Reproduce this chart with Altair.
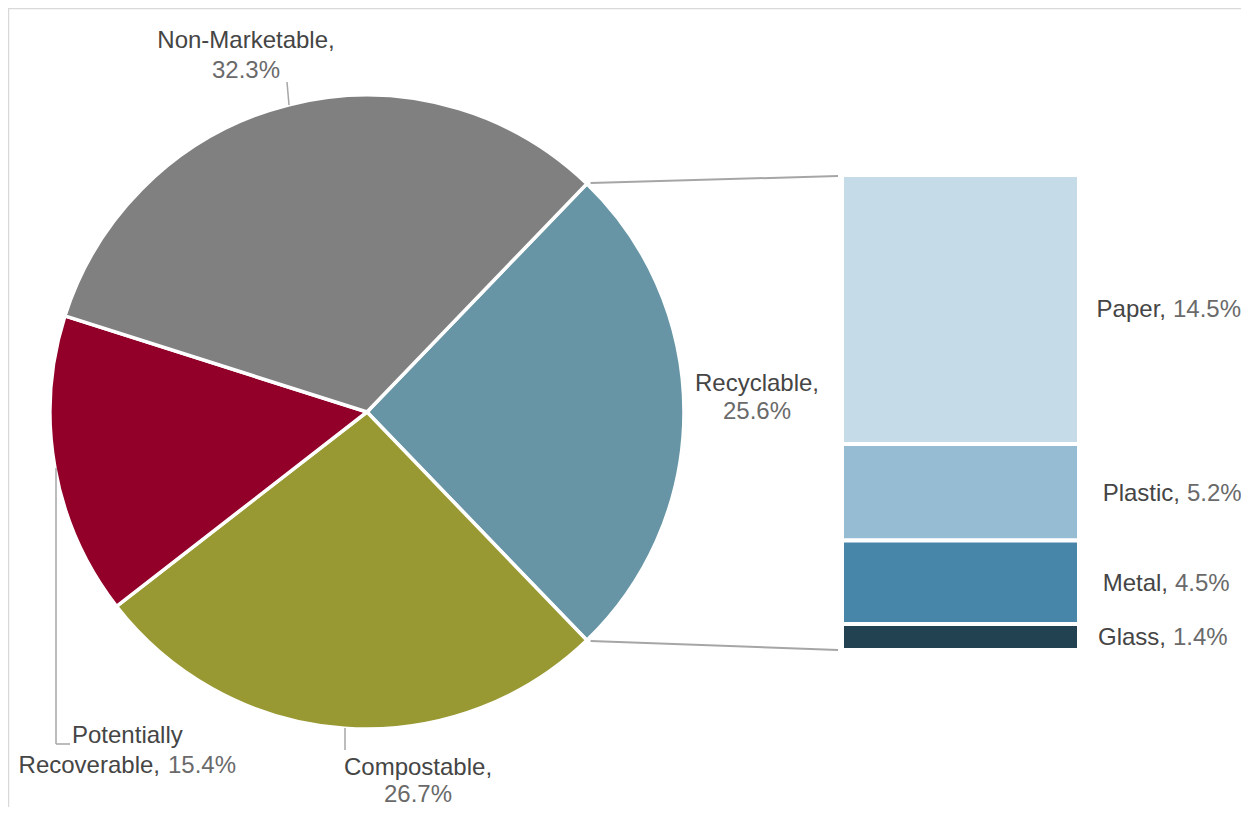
import math
import altair as alt
import pandas as pd

# ---- data ----
pie_categories = ["Recyclable", "Compostable", "Potentially Recoverable", "Non-Marketable"]
pie_values = [25.6, 26.7, 15.4, 32.3]
pie_colors = ["#6795A5", "#999933", "#92002A", "#808080"]

bar_categories = ["Paper", "Plastic", "Metal", "Glass"]
bar_values = [14.5, 5.2, 4.5, 1.4]
bar_colors = ["#C5DCE8", "#95BCD3", "#4786A8", "#224252"]

# ---- layout ----
W, H = 1233, 799
CX, CY, R = 359, 404, 315
BAR_L, BAR_R, BAR_TOP, BAR_BOT = 834, 1071, 167, 642
FONT = "Liberation Sans"
FS = 24
NAME_C = "#454545"
PCT_C = "#6a6a6a"

total = sum(pie_values)
rec_share = pie_values[0] / total
start = math.pi / 2 - rec_share * math.pi

dummy = pd.DataFrame({"a": [0]})

pie_df = pd.DataFrame({"category": pie_categories, "value": pie_values,
                       "idx": list(range(len(pie_values)))})
pie = alt.Chart(pie_df).mark_arc(outerRadius=R + 2, stroke="white", strokeWidth=3.5).encode(
    theta=alt.Theta("value:Q", stack=True,
                    scale=alt.Scale(domain=[0, total], range=[start, start + 2 * math.pi])),
    color=alt.Color("category:N", scale=alt.Scale(domain=pie_categories, range=pie_colors), legend=None),
    order=alt.Order("idx:Q"),
    x=alt.value(CX), y=alt.value(CY),
)

bar_df = pd.DataFrame({"part": bar_categories, "value": bar_values,
                       "idx": list(range(len(bar_values)))})
bars = alt.Chart(bar_df).transform_stack(
    stack="value", groupby=[], as_=["y0", "y1"], sort=[alt.SortField("idx", order="ascending")]
).mark_rect(stroke="white", strokeWidth=4).encode(
    x=alt.value(BAR_L), x2=alt.value(BAR_R),
    y=alt.Y("y0:Q",
            scale=alt.Scale(domain=[0, sum(bar_values)], range=[BAR_TOP, BAR_BOT], nice=False),
            axis=None),
    y2="y1:Q",
    color=alt.Color("part:N", scale=alt.Scale(domain=bar_categories, range=bar_colors), legend=None),
)


def rule(x1, y1, x2, y2, color="#A6A6A6", w=2):
    return alt.Chart(dummy).mark_rule(color=color, strokeWidth=w).encode(
        x=alt.value(x1), y=alt.value(y1), x2=alt.value(x2), y2=alt.value(y2))


def txt(s, x, y, align="center", color=NAME_C):
    return alt.Chart(dummy).mark_text(text=s, align=align, baseline="middle", font=FONT,
                                      fontSize=FS, color=color).encode(
        x=alt.value(x), y=alt.value(y))


def pct(v):
    return f"{v:.1f}%"


# connectors from Recyclable slice edges to bar
a1 = start
a2 = start + rec_share * 2 * math.pi
p1 = (CX + (R + 3) * math.sin(a1), CY - (R + 3) * math.cos(a1))
p2 = (CX + (R + 3) * math.sin(a2), CY - (R + 3) * math.cos(a2))
connectors = [
    rule(p1[0] + 3, p1[1], BAR_L - 4, BAR_TOP + 1),
    rule(p2[0] + 3, p2[1], BAR_L - 4, BAR_BOT),
]

frame = [
    rule(0.5, 0, 0.5, H, color="#D9D9D9", w=1.5),
    rule(0, 0.5, W, 0.5, color="#D9D9D9", w=1.5),
]

leaders = [
    rule(279, 74, 281, 97, w=1.5),
    rule(337, 720, 337, 742, w=1.5),
    rule(48, 460, 48, 736, w=1.5),
    rule(48, 736, 62, 736, w=1.5),
]

labels = [
    txt(pie_categories[3] + ",", 238, 33),
    txt(pct(pie_values[3]), 238, 63, color=PCT_C),
    txt(pie_categories[0] + ",", 749, 376),
    txt(pct(pie_values[0]), 749, 404, color=PCT_C),
    txt(pie_categories[1] + ",", 410, 760),
    txt(pct(pie_values[1]), 410, 787, color=PCT_C),
    txt(pie_categories[2].split(" ")[0], 64, 728, align="left"),
    txt(pie_categories[2].split(" ")[1] + ",", 152, 758, align="right"),
    txt(pct(pie_values[2]), 160, 758, align="left", color=PCT_C),
]

bar_label_pos = [(1158, 1165, 302), (1172, 1179, 486), (1160, 1167, 576), (1158, 1165, 630)]
for cat, v, (xr, xl, y) in zip(bar_categories, bar_values, bar_label_pos):
    labels.append(txt(cat + ",", xr, y, align="right"))
    labels.append(txt(pct(v), xl, y, align="left", color=PCT_C))

chart = alt.layer(*frame, pie, bars, *connectors, *leaders, *labels).properties(
    width=W, height=H, autosize="none", padding=0
).resolve_scale(color="independent").configure_view(stroke=None)

chart.save("out.html", embed_options={"renderer": "svg", "actions": False})
